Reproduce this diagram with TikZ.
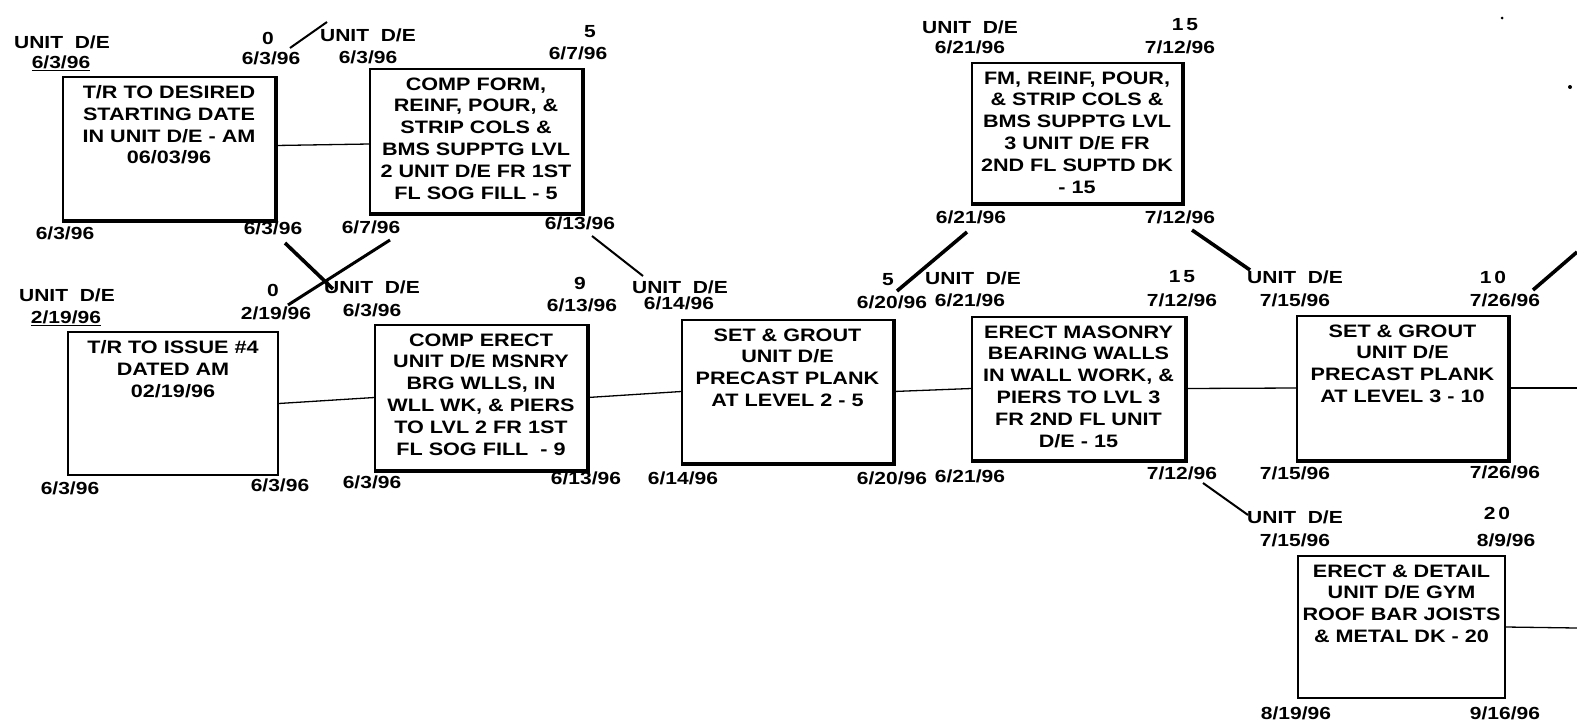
\documentclass[tikz,border=0pt]{standalone}
\usepackage{fontspec}
\setmainfont[FakeStretch=1.2]{Liberation Sans}
\usetikzlibrary{fit}
\tikzset{
  x=1pt,y=-1pt,
  box/.style={draw,line width=1.4pt,inner sep=0pt},
  shade/.style={line width=3pt},
  btxt/.style={inner sep=0pt,align=center,anchor=north,font=\fontsize{18}{21.8}\selectfont\bfseries},
  lab/.style={inner sep=0pt,font=\fontsize{17.5}{21}\selectfont\bfseries},
  conn/.style={line width=1.3pt},
  thin diag/.style={line width=2pt},
  thick diag/.style={line width=3.6pt},
}
\newcommand\actbox[7]{%
  \node[box,fit={(#2,#3) (#4,#5)}] (#1) {};
  \node[btxt] (#1t) at ([yshift=-9pt]#1.north) {#6};
  \ifx#7y
  \draw[shade] ([xshift=1.2pt]#1.north east) -- ([xshift=1.2pt,yshift=-1.2pt]#1.south east) -- ([yshift=-1.2pt]#1.south west);
  \fi
}
\begin{document}
\begin{tikzpicture}
\useasboundingbox (0,0) rectangle (1577,726);
\fill[white] (0,0) rectangle (1577,726);

% boxes
\actbox{A}{63}{77}{275}{220}{T/R TO DESIRED\\STARTING DATE\\IN UNIT D/E - AM\\06/03/96}{y}
\actbox{B}{370}{69}{582}{213}{COMP FORM,\\REINF, POUR, \&\\STRIP COLS \&\\BMS SUPPTG LVL\\2 UNIT D/E FR 1ST\\FL SOG FILL - 5}{y}
\actbox{C}{972}{63}{1182}{203}{FM, REINF, POUR,\\\& STRIP COLS \&\\BMS SUPPTG LVL\\3 UNIT D/E FR\\2ND FL SUPTD DK\\- 15}{y}
\actbox{D}{68}{332}{278}{475}{T/R TO ISSUE \#4\\DATED AM\\02/19/96}{n}
\actbox{E}{375}{325}{587}{470}{COMP ERECT\\UNIT D/E MSNRY\\BRG WLLS, IN\\WLL WK, \& PIERS\\TO LVL 2 FR 1ST\\FL SOG FILL\ \ - 9}{y}
\actbox{F}{682}{320}{893}{463}{SET \& GROUT\\UNIT D/E\\PRECAST PLANK\\AT LEVEL 2 - 5}{y}
\actbox{G}{972}{317}{1185}{460}{ERECT MASONRY\\BEARING WALLS\\IN WALL WORK, \&\\PIERS TO LVL 3\\FR 2ND FL UNIT\\D/E - 15}{y}
\actbox{H}{1297}{316}{1508}{460}{SET \& GROUT\\UNIT D/E\\PRECAST PLANK\\AT LEVEL 3 - 10}{y}
\actbox{I}{1298}{556}{1505}{698}{ERECT \& DETAIL\\UNIT D/E GYM\\ROOF BAR JOISTS\\\& METAL DK - 20}{n}

% labels A
\node[lab] (Au) at (62,42) {UNIT\ \ D/E};
\node[lab] (Aes) at (61,63) {\underline{6/3/96}};
\node[lab] (Ad) at (268,38) {0};
\node[lab] (Aef) at (271,58) {6/3/96};
\node[lab] (Als) at (65,233) {6/3/96};
\node[lab] (Alf) at (273,228) {6/3/96};
% labels B
\node[lab] (Bu) at (368,35) {UNIT\ \ D/E};
\node[lab] (Bes) at (368,57) {6/3/96};
\node[lab] (Bd) at (590,32) {5};
\node[lab] (Bef) at (578,53) {6/7/96};
\node[lab] (Bls) at (371,227) {6/7/96};
\node[lab] (Blf) at (580,223) {6/13/96};
% labels C
\node[lab] (Cu) at (970,27) {UNIT\ \ D/E};
\node[lab] (Ces) at (970,47) {6/21/96};
\node[lab] (Cd) at (1185,25) {1\hspace{3pt}5};
\node[lab] (Cef) at (1180,47) {7/12/96};
\node[lab] (Cls) at (971,217) {6/21/96};
\node[lab] (Clf) at (1180,217) {7/12/96};
% labels D
\node[lab] (Du) at (67,295) {UNIT\ \ D/E};
\node[lab] (Des) at (66,318) {\underline{2/19/96}};
\node[lab] (Dd) at (273,290) {0};
\node[lab] (Def) at (276,313) {2/19/96};
\node[lab] (Dls) at (70,488) {6/3/96};
\node[lab] (Dlf) at (280,485) {6/3/96};
% labels E
\node[lab] (Eu) at (372,287) {UNIT\ \ D/E};
\node[lab] (Ees) at (372,310) {6/3/96};
\node[lab] (Ed) at (580,283) {9};
\node[lab] (Eef) at (582,305) {6/13/96};
\node[lab] (Els) at (372,482) {6/3/96};
\node[lab] (Elf) at (586,478) {6/13/96};
% labels F
\node[lab] (Fu) at (680,287) {UNIT\ \ D/E};
\node[lab] (Fes) at (679,303) {6/14/96};
\node[lab] (Fd) at (888,280) {5};
\node[lab] (Fef) at (892,302) {6/20/96};
\node[lab] (Fls) at (683,478) {6/14/96};
\node[lab] (Flf) at (892,478) {6/20/96};
% labels G
\node[lab] (Gu) at (973,278) {UNIT\ \ D/E};
\node[lab] (Ges) at (970,300) {6/21/96};
\node[lab] (Gd) at (1182,277) {1\hspace{3pt}5};
\node[lab] (Gef) at (1182,300) {7/12/96};
\node[lab] (Gls) at (970,476) {6/21/96};
\node[lab] (Glf) at (1182,473) {7/12/96};
% labels H
\node[lab] (Hu) at (1295,277) {UNIT\ \ D/E};
\node[lab] (Hes) at (1295,300) {7/15/96};
\node[lab] (Hd) at (1493,277) {1\hspace{3pt}0};
\node[lab] (Hef) at (1505,300) {7/26/96};
\node[lab] (Hls) at (1295,473) {7/15/96};
\node[lab] (Hlf) at (1505,472) {7/26/96};
% labels I
\node[lab] (Iu) at (1295,517) {UNIT\ \ D/E};
\node[lab] (Ies) at (1295,540) {7/15/96};
\node[lab] (Id) at (1497,513) {2\hspace{3pt}0};
\node[lab] (Ief) at (1506,540) {8/9/96};
\node[lab] (Ils) at (1296,713) {8/19/96};
\node[lab] (Ilf) at (1505,713) {9/16/96};

% horizontal connectors
\coordinate (Hout) at (1577,388);
\coordinate (Iout) at (1577,628);
\draw[conn] ([yshift=3pt]A.east) -- ([yshift=-3pt]B.west);
\draw[conn] (D.east) -- (E.west);
\draw[conn] (E.east) -- (F.west);
\draw[conn] (F.east) -- (G.west);
\draw[conn] (G.east) -- (H.west);
\draw[conn] (H.east) -- (Hout);
\draw[conn] (I.east) -- (Iout);

% diagonal connectors
\coordinate (d1a) at (290,48);   \coordinate (d1b) at (327,22);
\coordinate (d2a) at (285,243);  \coordinate (d2b) at (333,289);
\coordinate (d3a) at (390,240);  \coordinate (d3b) at (288,305);
\coordinate (d4a) at (592,236);  \coordinate (d4b) at (643,276);
\coordinate (d5a) at (897,291);  \coordinate (d5b) at (967,232);
\coordinate (d6a) at (1192,230); \coordinate (d6b) at (1250,270);
\coordinate (d7a) at (1533,290); \coordinate (d7b) at (1577,252);
\coordinate (d8a) at (1203,483); \coordinate (d8b) at (1248,515);
\draw[thin diag] (d1a) -- (d1b);
\draw[thick diag] (d2a) -- (d2b);
\draw[line width=3pt] (d3a) -- (d3b);
\draw[thin diag] (d4a) -- (d4b);
\draw[thick diag] (d5a) -- (d5b);
\draw[thick diag] (d6a) -- (d6b);
\draw[thick diag] (d7a) -- (d7b);
\draw[thin diag] (d8a) -- (d8b);

% specks
\fill (1502,18) circle (1.5);
\fill (1570,87) circle (2);
\end{tikzpicture}
\end{document}
